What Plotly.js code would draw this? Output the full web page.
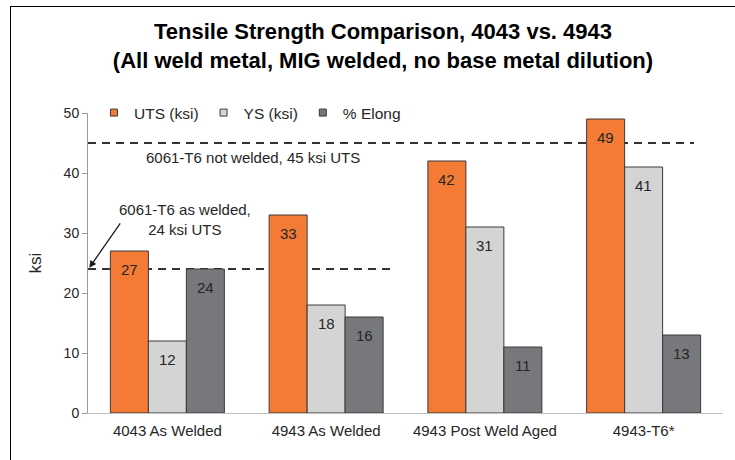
<!DOCTYPE html>
<html>
<head>
<meta charset="utf-8">
<script src="https://cdn.plot.ly/plotly-3.0.1.min.js"></script>
<style>
  html, body { margin: 0; padding: 0; background: #ffffff; }
  #frame { position: absolute; left: 10px; top: 6px; width: 900px; height: 700px; border: 1.5px solid #000; }
  #chart { position: absolute; left: 0; top: 0; width: 735px; height: 460px; }
</style>
</head>
<body>
<div id="frame"></div>
<div id="chart"></div>
<script>
// ---- data ----
const categories = ['4043 As Welded', '4943 As Welded', '4943 Post Weld Aged', '4943-T6*'];
const utsKsi = [27, 33, 42, 49];
const ysKsi = [12, 18, 31, 41];
const elongPct = [24, 16, 11, 13];
const seriesNames = ['UTS (ksi)', 'YS (ksi)', '% Elong'];
const refNotWelded = 45;
const refAsWelded = 24;

// ---- styles ----
const colors = ['#F47B35', '#D4D4D4', '#77787B'];
const outline = '#3A3A3A';
const fontFam = 'Liberation Sans, Arial, sans-serif';
const W = 735, H = 460;
const margin = {l: 88, r: 12, t: 113, b: 47};
const bargap = 0.282;
const plotW = W - margin.l - margin.r;
const barW = (plotW / categories.length) * (1 - bargap) / 3;

const seriesVals = [utsKsi, ysKsi, elongPct];

const traces = seriesVals.map((vals, i) => ({
  type: 'bar',
  name: seriesNames[i],
  x: categories,
  y: vals,
  marker: {color: colors[i], line: {color: outline, width: 1}},
  showlegend: false,
  hoverinfo: 'x+y'
}));
// legend-only markers (small squares like the original)
seriesNames.forEach((n, i) => {
  traces.push({
    type: 'scatter', mode: 'markers', name: n,
    x: [null], y: [null],
    marker: {symbol: 'square', size: 7, color: colors[i], line: {color: outline, width: 1}},
    showlegend: true, hoverinfo: 'skip'
  });
});

const annotations = [];
seriesVals.forEach((vals, i) => {
  vals.forEach((v, j) => {
    annotations.push({
      x: categories[j], y: v, xref: 'x', yref: 'y',
      text: String(v), showarrow: false,
      xshift: (i - 1) * barW, yshift: -18,
      font: {family: fontFam, size: 15, color: '#262626'}
    });
  });
});
annotations.push({
  xref: 'paper', yref: 'y', x: (253 - margin.l) / plotW, y: refNotWelded, yshift: -14,
  xanchor: 'center', yanchor: 'middle',
  text: '6061-T6 not welded, 45 ksi UTS', showarrow: false,
  font: {family: fontFam, size: 15, color: '#262626'}
});
annotations.push({
  xref: 'paper', yref: 'y', x: (185 - margin.l) / plotW, y: 32.2,
  xanchor: 'center', yanchor: 'middle',
  text: '6061-T6 as welded,<br>24 ksi UTS', showarrow: false,
  font: {family: fontFam, size: 15, color: '#262626'}
});
annotations.push({
  xref: 'paper', yref: 'y', x: 0.002, y: refAsWelded + 0.2,
  text: '', showarrow: true, ax: 32, ay: -46,
  arrowhead: 2, arrowsize: 1.1, arrowwidth: 1.3, arrowcolor: '#1a1a1a'
});

const shapes = [
  {type: 'line', layer: 'below', xref: 'paper', yref: 'y', x0: 0, x1: (694 - margin.l) / plotW, y0: refNotWelded, y1: refNotWelded,
   line: {color: '#333333', width: 2, dash: '8px,6px'}},
  {type: 'line', layer: 'below', xref: 'paper', yref: 'y', x0: 0, x1: (396 - margin.l) / plotW, y0: refAsWelded, y1: refAsWelded,
   line: {color: '#333333', width: 2, dash: '8px,6px'}}
];

const layout = {
  width: W, height: H,
  margin: margin,
  paper_bgcolor: 'rgba(0,0,0,0)',
  plot_bgcolor: 'rgba(0,0,0,0)',
  font: {family: fontFam, color: '#262626'},
  title: {
    text: '<b>Tensile Strength Comparison, 4043 vs. 4943<br>(All weld metal, MIG welded, no base metal dilution)</b>',
    x: 383 / W, xref: 'container', xanchor: 'center',
    y: 1 - 39 / H, yref: 'container', yanchor: 'middle',
    font: {family: fontFam, size: 22, color: '#000000'}
  },
  barmode: 'group',
  bargap: bargap,
  bargroupgap: 0,
  showlegend: true,
  legend: {
    orientation: 'h', x: (250 - margin.l) / plotW, xanchor: 'center', y: 1.0, yanchor: 'middle',
    font: {family: fontFam, size: 15.5, color: '#262626'},
    itemwidth: 30, bgcolor: 'rgba(0,0,0,0)'
  },
  xaxis: {
    type: 'category',
    showline: true, linecolor: '#BFBFBF', linewidth: 1,
    ticks: '', showgrid: false, zeroline: false,
    ticklabelstandoff: 4,
    tickfont: {family: fontFam, size: 15, color: '#262626'}
  },
  yaxis: {
    range: [0, 50], dtick: 10,
    showline: true, linecolor: '#9A9A9A', linewidth: 1,
    ticks: 'outside', ticklen: 5, tickcolor: '#9A9A9A',
    showgrid: false, zeroline: false,
    tickfont: {family: fontFam, size: 14, color: '#262626'},
    title: {text: 'ksi', font: {family: fontFam, size: 17, color: '#262626'}, standoff: 17}
  },
  shapes: shapes,
  annotations: annotations
};

Plotly.newPlot('chart', traces, layout, {displayModeBar: false, staticPlot: true});
</script>
</body>
</html>
